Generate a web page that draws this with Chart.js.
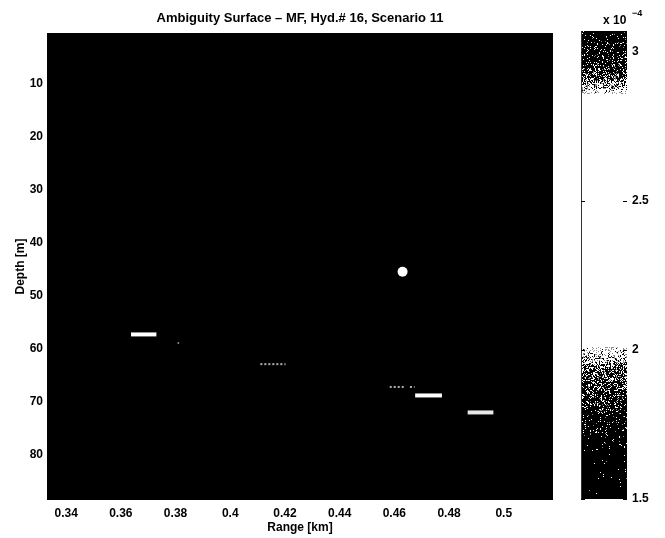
<!DOCTYPE html>
<html><head><meta charset="utf-8">
<script src="https://cdn.jsdelivr.net/npm/chart.js@4/dist/chart.umd.min.js"></script>
<style>
html,body{margin:0;padding:0;background:#fff;}
#wrap{position:relative;width:665px;height:538px;}
canvas{position:absolute;left:0;top:0;}
</style></head><body>
<div id="wrap"><canvas id="main" width="665" height="538"></canvas><canvas id="cbar" width="665" height="538"></canvas></div>
<script>
// ---- data ----
const xTickValues = [0.34, 0.36, 0.38, 0.4, 0.42, 0.44, 0.46, 0.48, 0.5];
const yTickValues = [10, 20, 30, 40, 50, 60, 70, 80];
const cbarTickValues = [1.5, 2, 2.5, 3];
// bright ridges of the ambiguity surface (range in km, depth in m)
const ridgeStartRange = [0.3637, 0.4110, 0.4583, 0.4657, 0.4676, 0.4868];
const ridgeEndRange   = [0.3730, 0.4202, 0.4636, 0.4674, 0.4774, 0.4962];
const ridgeDepth      = [57.3, 62.9, 67.2, 67.2, 68.8, 72.0];
const ridgeLevel      = [3.0, 2.2, 2.2, 2.2, 3.0, 2.7]; // relative brightness (x1e-4)
// source position marker
const sourceRange = [0.463];
const sourceDepth = [45.5];
// faint speck
const speckRange = [0.381];
const speckDepth = [58.9];

const FONT = "'Liberation Sans', Arial, Helvetica, sans-serif";

function levelColor(v) {
  if (v >= 2.9) return '#ffffff';
  if (v >= 2.6) return '#e8e8e8';
  return '#b0b0b0';
}

const datasets = [];
for (let i = 0; i < ridgeDepth.length; i++) {
  const faint = ridgeLevel[i] < 2.6;
  datasets.push({
    type: 'line',
    data: [{x: ridgeStartRange[i], y: ridgeDepth[i]}, {x: ridgeEndRange[i], y: ridgeDepth[i]}],
    borderColor: levelColor(ridgeLevel[i]),
    borderWidth: faint ? 2 : 4,
    borderDash: faint ? [2, 2] : [],
    pointRadius: 0,
    showLine: true,
    fill: false
  });
}
datasets.push({
  type: 'scatter',
  data: sourceRange.map((r, i) => ({x: r, y: sourceDepth[i]})),
  pointRadius: 5,
  backgroundColor: '#ffffff',
  borderWidth: 0
});
datasets.push({
  type: 'scatter',
  data: speckRange.map((r, i) => ({x: r, y: speckDepth[i]})),
  pointRadius: 1,
  backgroundColor: '#888888',
  borderWidth: 0
});

const blackBg = {
  id: 'blackBg',
  beforeDatasetsDraw(chart) {
    const a = chart.chartArea, ctx = chart.ctx;
    ctx.save();
    ctx.fillStyle = '#000';
    ctx.fillRect(a.left, a.top, a.right - a.left, a.bottom - a.top);
    ctx.restore();
  }
};

new Chart(document.getElementById('main'), {
  type: 'scatter',
  data: { datasets },
  options: {
    responsive: false,
    animation: false,
    events: [],
    layout: { padding: { left: 0, right: 112, top: 0, bottom: 0 } },
    plugins: {
      legend: { display: false },
      tooltip: { enabled: false },
      title: {
        display: true,
        fullSize: false,
        text: 'Ambiguity Surface \u2013 MF, Hyd.# 16, Scenario 11',
        color: '#000',
        font: { family: FONT, size: 13, weight: 'bold', lineHeight: 1.2 },
        padding: { top: 11, bottom: 6.4 }
      }
    },
    scales: {
      x: {
        type: 'linear',
        min: 0.333, max: 0.518,
        afterBuildTicks: s => { s.ticks = xTickValues.map(v => ({ value: v })); },
        afterFit: s => { s.height = 38; },
        grid: { display: false, drawTicks: false },
        border: { display: false },
        ticks: {
          color: '#000', padding: 6, maxRotation: 0, autoSkip: false,
          font: { family: FONT, size: 12, weight: 'bold' },
          callback: v => String(v)
        },
        title: {
          display: true, text: 'Range [km]', color: '#000',
          font: { family: FONT, size: 12, weight: 'bold' },
          padding: { top: 0, bottom: 3 }
        }
      },
      y: {
        type: 'linear',
        reverse: true,
        min: 0.5, max: 88.5,
        afterBuildTicks: s => { s.ticks = yTickValues.map(v => ({ value: v })); },
        afterFit: s => { s.width = 47; },
        grid: { display: false, drawTicks: false },
        border: { display: false },
        ticks: {
          color: '#000', padding: 4, autoSkip: false,
          font: { family: FONT, size: 12, weight: 'bold' },
          callback: v => String(v)
        },
        title: {
          display: true, text: 'Depth [m]', color: '#000',
          font: { family: FONT, size: 12, weight: 'bold' },
          padding: { top: 13, bottom: 0 }
        }
      }
    }
  },
  plugins: [blackBg]
});

// ---- colorbar ----
// probability that a pixel of the printed (dithered) colorbar is white, by value
function whiteDensity(v) {
  const pts = [[1.5, 0.0], [1.66, 0.02], [1.75, 0.08], [1.85, 0.2], [1.93, 0.35], [1.98, 0.8], [2.01, 1.0],
               [2.86, 1.0], [2.89, 0.7], [2.92, 0.3], [2.97, 0.15], [3.07, 0.06]];
  if (v <= pts[0][0]) return pts[0][1];
  for (let i = 1; i < pts.length; i++) {
    if (v <= pts[i][0]) {
      const t = (v - pts[i-1][0]) / (pts[i][0] - pts[i-1][0]);
      return pts[i-1][1] + t * (pts[i][1] - pts[i-1][1]);
    }
  }
  return pts[pts.length - 1][1];
}
function hash2(x, y) {
  let n = Math.imul(x, 374761393) + Math.imul(y, 668265263);
  n = Math.imul(n ^ (n >>> 13), 1274126177);
  n = n ^ (n >>> 16);
  return (n >>> 0) / 4294967296;
}

const cbarPlugin = {
  id: 'cbarPlugin',
  beforeDatasetsDraw(chart) {
    const a = chart.chartArea, ctx = chart.ctx, ys = chart.scales.y;
    const L = Math.round(a.left), T = Math.round(a.top);
    const W = Math.round(a.right) - L, H = Math.round(a.bottom) - T;
    const img = ctx.createImageData(W, H);
    for (let j = 0; j < H; j++) {
      const v = ys.getValueForPixel(T + j + 0.5);
      const d = whiteDensity(v);
      for (let i = 0; i < W; i++) {
        const r = hash2(i + 7, j + 13);
        let g;
        if (d >= 1 || r < d * 0.8) g = 255;
        else if (r < d) g = 140;
        else g = 0;
        const k = (j * W + i) * 4;
        img.data[k] = g; img.data[k+1] = g; img.data[k+2] = g; img.data[k+3] = 255;
      }
    }
    ctx.putImageData(img, L, T);
    ctx.save();
    // thin left edge line
    ctx.strokeStyle = '#333';
    ctx.lineWidth = 1;
    ctx.beginPath();
    ctx.moveTo(L + 0.5, T); ctx.lineTo(L + 0.5, T + H);
    ctx.stroke();
    // inward tick marks on both edges
    ctx.strokeStyle = '#000';
    ys.ticks.forEach(t => {
      const y = Math.round(ys.getPixelForValue(t.value)) + 0.5;
      ctx.beginPath();
      ctx.moveTo(L, y); ctx.lineTo(L + 4, y);
      ctx.moveTo(L + W - 4, y); ctx.lineTo(L + W, y);
      ctx.stroke();
    });
    // exponent label
    ctx.fillStyle = '#000';
    ctx.textBaseline = 'alphabetic';
    ctx.textAlign = 'left';
    ctx.font = "bold 12px " + FONT;
    ctx.fillText('x 10', 603, 24);
    ctx.font = "bold 9px " + FONT;
    ctx.fillText('\u22124', 632, 16);
    ctx.restore();
  }
};

new Chart(document.getElementById('cbar'), {
  type: 'scatter',
  data: { datasets: [] },
  options: {
    responsive: false,
    animation: false,
    events: [],
    layout: { padding: { left: 581, right: 0, top: 31, bottom: 39 } },
    plugins: { legend: { display: false }, tooltip: { enabled: false }, title: { display: false } },
    scales: {
      x: { type: 'linear', display: false, min: 0, max: 1 },
      y: {
        type: 'linear', position: 'right',
        min: 1.5, max: 3.07,
        afterBuildTicks: s => { s.ticks = cbarTickValues.map(v => ({ value: v })); },
        afterFit: s => { s.width = 38; },
        grid: { display: false, drawTicks: false },
        border: { display: false },
        ticks: {
          color: '#000', padding: 5, autoSkip: false,
          font: { family: FONT, size: 12, weight: 'bold' },
          callback: v => String(v)
        }
      }
    }
  },
  plugins: [cbarPlugin]
});
</script>
</body></html>
